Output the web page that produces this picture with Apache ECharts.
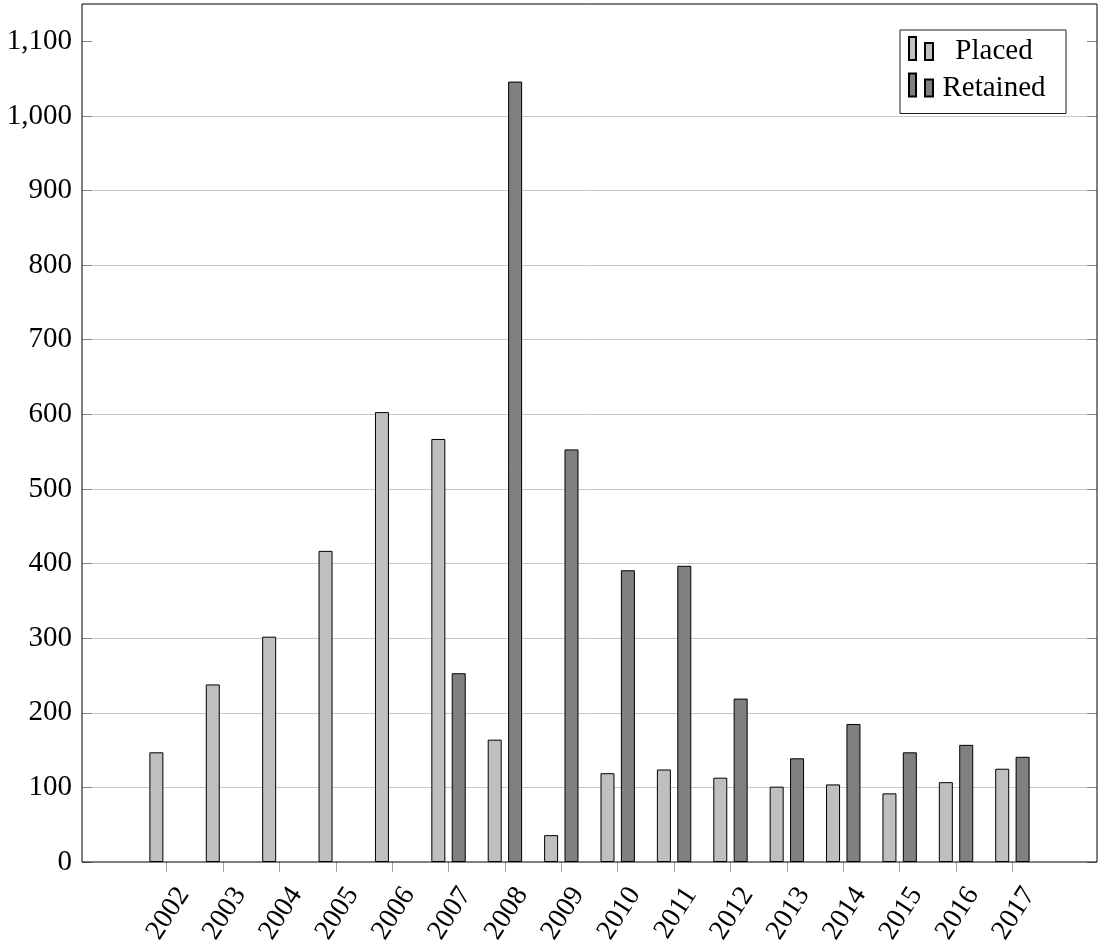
<!DOCTYPE html>
<html>
<head>
<meta charset="utf-8">
<script src="https://cdn.jsdelivr.net/npm/echarts@6/dist/echarts.min.js"></script>
<style>html,body{margin:0;padding:0;background:#fff}#c{width:1099px;height:952px}</style>
</head>
<body>
<div id="c"></div>
<script>
var years = [2002,2003,2004,2005,2006,2007,2008,2009,2010,2011,2012,2013,2014,2015,2016,2017];
var placed = [147,238,302,417,603,567,164,36,119,124,113,101,104,92,107,125];
var retained = [null,null,null,null,null,253,1046,553,391,397,219,139,185,147,157,141];
var yTicks = [0,100,200,300,400,500,600,700,800,900,1000,1100];
var seriesNames = ['Placed','Retained'];

var FONT = 'Liberation Serif';
function pairs(vals){ return years.map(function(y,i){ return [y, vals[i]]; }); }

var chart = echarts.init(document.getElementById('c'), null, {renderer:'canvas'});
var yBase = {
  type:'value', min:0, max:1150, interval:100,
  axisLine:{show:false},
  splitLine:{show:false}
};
chart.setOption({
  animation:false,
  backgroundColor:'#fff',
  grid:{left:82, right:2, top:4, bottom:90, show:true, borderColor:'#000', borderWidth:1, backgroundColor:'transparent', z:3},
  legend:{
    orient:'vertical', right:33, top:30,
    backgroundColor:'#fff', borderColor:'#222', borderWidth:1,
    padding:[1,16,11,8], itemGap:1.5,
    itemWidth:24, itemHeight:23,
    icon:'path://M0,0h7v23h-7zM16,6h8v17h-8z',
    data:seriesNames,
    formatter:function(n){ return '{t|'+n+'}'; },
    textStyle:{
      rich:{t:{width:112, align:'center', fontFamily:FONT, fontSize:29, color:'#000', lineHeight:28, padding:[6,0,0,0]}}
    }
  },
  xAxis:{
    type:'value', min:2000.5, max:2018.5,
    axisLine:{show:false},
    splitLine:{show:false},
    axisTick:{show:true, inside:false, length:10, customValues:years, lineStyle:{color:'#a0a0a0'}},
    axisLabel:{
      customValues:years.map(function(y){return y+0.3;}),
      formatter:function(v){ return String(Math.round(v)); },
      rotate:57, margin:28,
      fontFamily:FONT, fontSize:28, color:'#000'
    }
  },
  yAxis:[
    Object.assign({}, yBase, {
      position:'left',
      splitLine:{show:true, showMinLine:false, showMaxLine:false, lineStyle:{color:'#c8c8c8', width:1}},
      axisTick:{show:true, inside:true, length:10, customValues:yTicks, lineStyle:{color:'#888'}},
      axisLabel:{customValues:yTicks, margin:10, fontFamily:FONT, fontSize:29, color:'#000',
        formatter:function(v){ return v.toLocaleString('en-US'); }}
    }),
    Object.assign({}, yBase, {
      position:'right',
      axisTick:{show:true, inside:true, length:10, customValues:yTicks, lineStyle:{color:'#888'}},
      axisLabel:{show:false}
    })
  ],
  series:[
    {name:seriesNames[0], type:'bar', data:pairs(placed), barWidth:14, barGap:'45.7%',
     itemStyle:{color:'#bfbfbf', borderColor:'#000', borderWidth:1}},
    {name:seriesNames[1], type:'bar', data:pairs(retained), barWidth:14, barGap:'45.7%',
     itemStyle:{color:'#808080', borderColor:'#000', borderWidth:1}}
  ]
});
</script>
</body>
</html>
